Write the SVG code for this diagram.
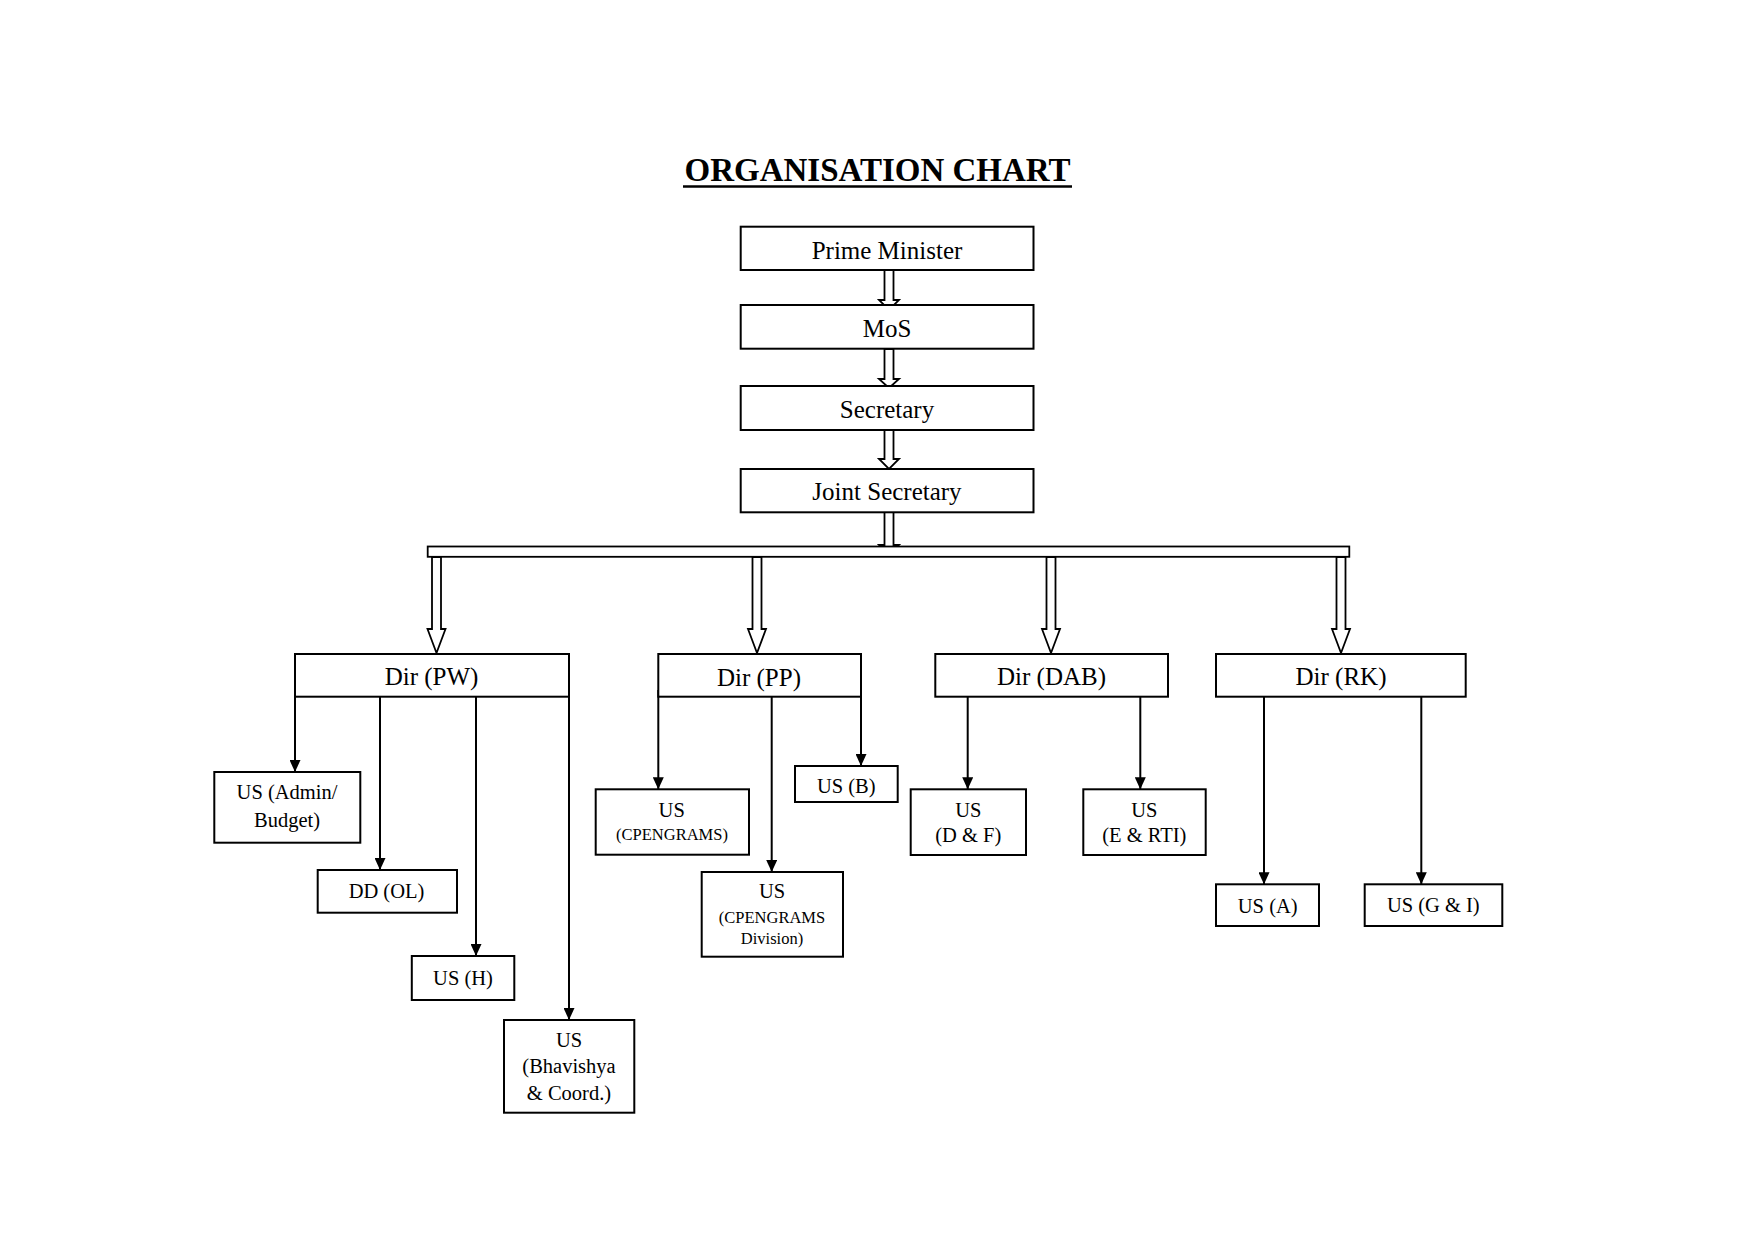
<svg xmlns="http://www.w3.org/2000/svg" width="1755" height="1241" viewBox="0 0 1755 1241">
<style>
.bx{fill:#fff;stroke:#000;stroke-width:2}
.t{font-family:"Liberation Serif","Times New Roman",serif;fill:#000;text-anchor:middle}
.l{font-size:25px}
.m{font-size:20.5px}
.s{font-size:16.5px}
.ln{stroke:#000;stroke-width:2;fill:none}
.ha{fill:#fff;stroke:#000;stroke-width:1.8;stroke-linejoin:miter}
</style>
<defs>
<marker id="ah" markerUnits="userSpaceOnUse" viewBox="0 0 12 11" markerWidth="12" markerHeight="11" refX="12" refY="5.5" orient="auto">
<path d="M0,0 L12,5.5 L0,11 z" fill="#000"/>
</marker>
</defs>
<rect width="1755" height="1241" fill="#fff"/>
<g id="title">
<text class="t" x="877.5" y="181" style="font-size:33px;font-weight:bold">ORGANISATION CHART</text>
<line x1="683" y1="186.5" x2="1072" y2="186.5" stroke="#000" stroke-width="2.5"/>
</g>
<g id="connectors">
<polygon class="ha" points="884.5,270 884.5,300 879,300 889,310 899,300 893.5,300 893.5,270"/>
<polygon class="ha" points="884.5,349 884.5,379 879,379 889,388 899,379 893.5,379 893.5,349"/>
<polygon class="ha" points="884.5,430 884.5,459 879,459 889,469 899,459 893.5,459 893.5,430"/>
<polygon class="ha" points="884.5,512 884.5,545 879,545 889,555 899,545 893.5,545 893.5,512"/>
<rect class="ha" x="427.7" y="546.5" width="921.6" height="10.3"/>
<polygon class="ha" points="432,557 432,629 427.5,629 436.5,653 445.5,629 441,629 441,557"/>
<polygon class="ha" points="752.5,557 752.5,629 748,629 757,653 766,629 761.5,629 761.5,557"/>
<polygon class="ha" points="1046.5,557 1046.5,629 1042,629 1051,653 1060,629 1055.5,629 1055.5,557"/>
<polygon class="ha" points="1336.5,557 1336.5,629 1332,629 1341,653 1350,629 1345.5,629 1345.5,557"/>
<line class="ln" x1="295" y1="690" x2="295" y2="772" marker-end="url(#ah)"/>
<line class="ln" x1="380" y1="697" x2="380" y2="870" marker-end="url(#ah)"/>
<line class="ln" x1="476" y1="697" x2="476" y2="956" marker-end="url(#ah)"/>
<line class="ln" x1="569" y1="690" x2="569" y2="1020" marker-end="url(#ah)"/>
<line class="ln" x1="658.3" y1="690" x2="658.3" y2="789.3" marker-end="url(#ah)"/>
<line class="ln" x1="771.7" y1="697" x2="771.7" y2="872" marker-end="url(#ah)"/>
<line class="ln" x1="861" y1="690" x2="861" y2="766" marker-end="url(#ah)"/>
<line class="ln" x1="967.7" y1="697" x2="967.7" y2="789.3" marker-end="url(#ah)"/>
<line class="ln" x1="1140.3" y1="697" x2="1140.3" y2="789.3" marker-end="url(#ah)"/>
<line class="ln" x1="1264" y1="697" x2="1264" y2="884.3" marker-end="url(#ah)"/>
<line class="ln" x1="1421.3" y1="697" x2="1421.3" y2="884.3" marker-end="url(#ah)"/>
</g>
<g id="pm"><rect class="bx" x="740.7" y="226.7" width="292.8" height="43.3"/><text class="t l" x="887" y="258.5">Prime Minister</text></g>
<g id="mos"><rect class="bx" x="740.7" y="305" width="292.8" height="43.7"/><text class="t l" x="887" y="337">MoS</text></g>
<g id="secretary"><rect class="bx" x="740.7" y="386" width="292.8" height="44"/><text class="t l" x="887" y="417.5">Secretary</text></g>
<g id="js"><rect class="bx" x="740.7" y="469" width="292.8" height="43.3"/><text class="t l" x="887" y="500">Joint Secretary</text></g>
<g id="dir-pw"><rect class="bx" x="295" y="654" width="274" height="42.7"/><text class="t l" x="431.5" y="685">Dir (PW)</text></g>
<g id="dir-pp"><rect class="bx" x="658.3" y="654" width="202.7" height="42.7"/><text class="t l" x="759" y="685.7">Dir (PP)</text></g>
<g id="dir-dab"><rect class="bx" x="935.3" y="654" width="232.7" height="42.7"/><text class="t l" x="1051.5" y="685">Dir (DAB)</text></g>
<g id="dir-rk"><rect class="bx" x="1216" y="654" width="249.7" height="42.7"/><text class="t l" x="1341" y="685">Dir (RK)</text></g>
<g id="us-admin"><rect class="bx" x="214.3" y="772" width="146" height="70.7"/><text class="t m" x="287" y="799.3">US (Admin/</text><text class="t m" x="287" y="826.7">Budget)</text></g>
<g id="dd-ol"><rect class="bx" x="317.7" y="870" width="139.3" height="42.7"/><text class="t m" x="386.5" y="898.3">DD (OL)</text></g>
<g id="us-h"><rect class="bx" x="411.8" y="956" width="102.5" height="44"/><text class="t m" x="463" y="985">US (H)</text></g>
<g id="us-bhavishya"><rect class="bx" x="504" y="1020" width="130.3" height="92.7"/><text class="t m" x="569" y="1046.7">US</text><text class="t m" x="569" y="1073.3">(Bhavishya</text><text class="t m" x="569" y="1100">&amp; Coord.)</text></g>
<g id="us-cpengrams"><rect class="bx" x="595.7" y="789.3" width="153.3" height="65.4"/><text class="t m" x="671.7" y="816.7">US</text><text class="t s" x="672" y="840">(CPENGRAMS)</text></g>
<g id="us-b"><rect class="bx" x="795" y="766" width="102.7" height="36"/><text class="t m" x="846.3" y="793.3">US (B)</text></g>
<g id="us-cpengrams-div"><rect class="bx" x="701.7" y="872" width="141.3" height="84.7"/><text class="t m" x="772" y="898.3">US</text><text class="t s" x="772" y="923.3">(CPENGRAMS</text><text class="t s" x="772" y="944.3">Division)</text></g>
<g id="us-df"><rect class="bx" x="910.7" y="789.3" width="115.3" height="65.7"/><text class="t m" x="968.3" y="816.7">US</text><text class="t m" x="968.3" y="841.7">(D &amp; F)</text></g>
<g id="us-erti"><rect class="bx" x="1083.3" y="789.3" width="122.4" height="65.7"/><text class="t m" x="1144.3" y="816.7">US</text><text class="t m" x="1144.3" y="841.7">(E &amp; RTI)</text></g>
<g id="us-a"><rect class="bx" x="1216" y="884.3" width="103" height="41.7"/><text class="t m" x="1267.7" y="913.3">US (A)</text></g>
<g id="us-gi"><rect class="bx" x="1364.7" y="884.3" width="137.6" height="41.7"/><text class="t m" x="1433.3" y="912">US (G &amp; I)</text></g>
</svg>
